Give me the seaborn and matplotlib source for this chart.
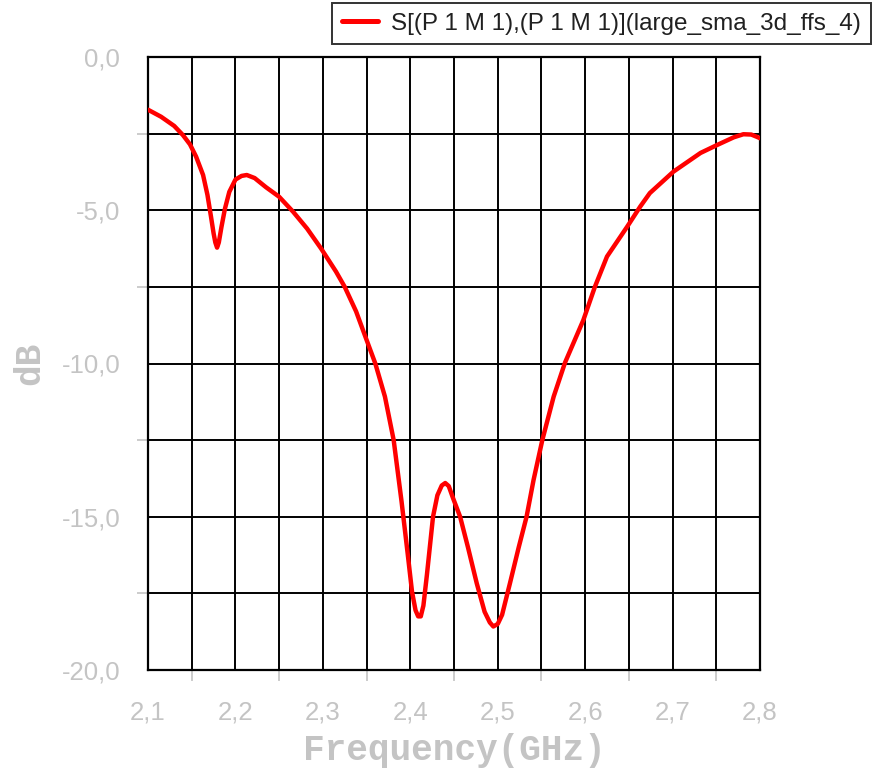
import numpy as np
import pandas as pd
import matplotlib
matplotlib.use("Agg")
import matplotlib.pyplot as plt
from matplotlib.ticker import FixedLocator, FuncFormatter
import seaborn as sns

# S11 reflection of the large SMA feed, frequency in GHz and magnitude in dB
freq_ghz = [
    2.100, 2.115, 2.130, 2.140, 2.148, 2.155, 2.163, 2.168, 2.172, 2.175,
    2.177, 2.179, 2.181, 2.184, 2.188, 2.193, 2.200, 2.207, 2.213, 2.222,
    2.235, 2.250, 2.266, 2.282, 2.298, 2.315, 2.325, 2.338, 2.350, 2.360,
    2.371, 2.381, 2.390, 2.397, 2.402, 2.406, 2.409, 2.412, 2.415, 2.419,
    2.426, 2.431, 2.436, 2.440, 2.444, 2.449, 2.457, 2.466, 2.476, 2.485,
    2.491, 2.495, 2.500, 2.505, 2.514, 2.524, 2.533, 2.541, 2.551, 2.564,
    2.577, 2.598, 2.611, 2.625, 2.648, 2.663, 2.674, 2.701, 2.732, 2.751,
    2.770, 2.781, 2.790, 2.796, 2.800,
]
s11_db = [
    -1.72, -1.95, -2.25, -2.55, -2.85, -3.25, -3.85, -4.50, -5.20, -5.75,
    -6.05, -6.22, -6.05, -5.55, -4.95, -4.40, -4.00, -3.88, -3.85, -3.95,
    -4.25, -4.56, -5.05, -5.60, -6.25, -7.00, -7.50, -8.30, -9.23, -10.00,
    -11.08, -12.50, -14.50, -16.20, -17.45, -18.05, -18.25, -18.25, -17.90, -16.90,
    -15.00, -14.30, -13.98, -13.90, -14.00, -14.40, -15.00, -16.00, -17.17, -18.10,
    -18.45, -18.58, -18.50, -18.20, -17.17, -16.00, -15.00, -13.80, -12.50, -11.08,
    -9.97, -8.58, -7.51, -6.51, -5.54, -4.88, -4.44, -3.74, -3.13, -2.87,
    -2.62, -2.52, -2.53, -2.60, -2.65,
]
series_name = "S[(P 1 M 1),(P 1 M 1)](large_sma_3d_ffs_4)"

x_major = [2.1, 2.2, 2.3, 2.4, 2.5, 2.6, 2.7, 2.8]
x_minor = [2.15, 2.25, 2.35, 2.45, 2.55, 2.65, 2.75]
y_major = [0.0, -5.0, -10.0, -15.0, -20.0]
y_minor = [-2.5, -7.5, -12.5, -17.5]

df = pd.DataFrame({"Frequency": freq_ghz, "dB": s11_db})

sns.set_theme(style="white")
plt.rcParams["font.family"] = ["Liberation Sans", "DejaVu Sans"]

fig = plt.figure(figsize=(8.73, 7.78), dpi=100)
ax = fig.add_axes([148 / 873, 1 - 670 / 778, (760 - 148) / 873, (670 - 57) / 778])

sns.lineplot(data=df, x="Frequency", y="dB", ax=ax, color="#ff0000",
             linewidth=3.2, label=series_name, zorder=3)

ax.set_xlim(2.1, 2.8)
ax.set_ylim(-20, 0)

grey = "#c4c4c4"
ax.xaxis.set_major_locator(FixedLocator(x_major))
ax.xaxis.set_minor_locator(FixedLocator(x_minor))
ax.yaxis.set_major_locator(FixedLocator(y_major))
ax.yaxis.set_minor_locator(FixedLocator(y_minor))
comma = FuncFormatter(lambda v, p: f"{v:.1f}".replace(".", ","))
ax.xaxis.set_major_formatter(comma)
ax.yaxis.set_major_formatter(comma)

ax.tick_params(axis="both", which="major", length=0, labelcolor=grey, labelsize=18.5)
ax.tick_params(axis="x", which="major", pad=22)
ax.tick_params(axis="y", which="major", pad=20)
ax.tick_params(axis="both", which="minor", direction="out", length=8,
               width=1.2, color=grey, bottom=True, left=True)

ax.grid(True, which="both", color="black", linewidth=1.4)
for s in ax.spines.values():
    s.set_color("black")
    s.set_linewidth(1.6)

label_font = dict(family=["Liberation Mono", "DejaVu Sans Mono"],
                  weight="bold", size=26, color=grey)
ax.set_xlabel("Frequency(GHz)", labelpad=6, **label_font)
ax.set_ylabel("dB", labelpad=10, **label_font)

leg = ax.legend(loc="upper right", bbox_to_anchor=(871 / 873, 1 - 3 / 778),
                bbox_transform=fig.transFigure, fontsize=17.5, frameon=True,
                fancybox=False, handlelength=1.5, handletextpad=0.55,
                borderpad=0.4, borderaxespad=0)
leg.get_frame().set_edgecolor("black")
leg.get_frame().set_linewidth(1.4)
for t in leg.get_texts():
    t.set_color("#202020")
for h in leg.get_lines():
    h.set_linewidth(3.6)

fig.savefig("out.png", dpi=100)
